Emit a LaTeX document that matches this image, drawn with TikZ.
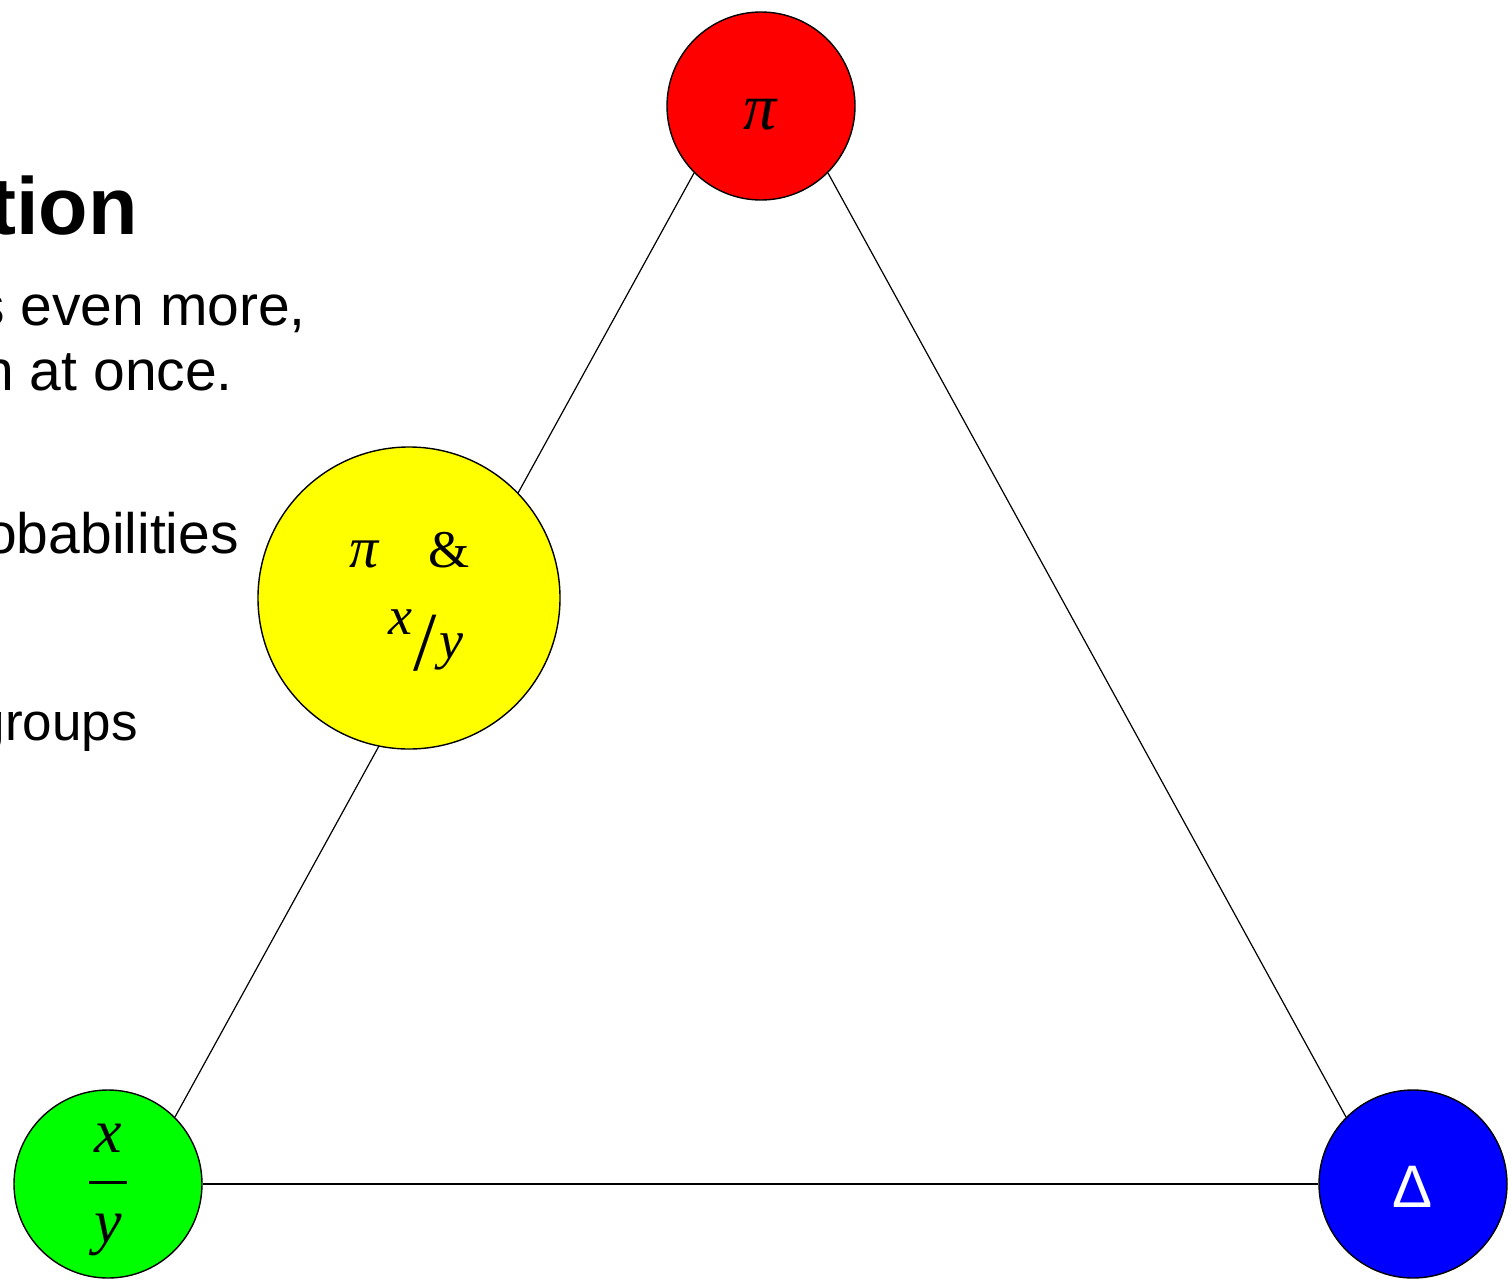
\RequirePackage{fix-cm}
\documentclass[tikz,border=0pt]{standalone}
\usepackage{fontspec}
\setmainfont{Liberation Sans}
\newfontfamily\lserif{Liberation Serif}
\newcommand{\lsi}{\lserif\itshape}
\usetikzlibrary{backgrounds}
\begin{document}
\begin{tikzpicture}[x=1pt,y=-1pt,
  ball/.style={circle,draw=black,line width=1.4pt,inner sep=0pt},
  link/.style={draw=black,line width=1.2pt},
  body/.style={font=\fontsize{57}{68}\selectfont,anchor=base east,inner sep=0pt},
  title/.style={font=\fontsize{81}{90}\selectfont\bfseries,anchor=base east,inner sep=0pt},
  lbl/.style={inner sep=0pt}
]
\clip (0,0) rectangle (1511,1279);
% circles
\node[ball,fill={rgb,255:red,255;green,0;blue,0},minimum size=188pt] (red) at (761,106) {};
\node[ball,fill={rgb,255:red,255;green,255;blue,0},minimum size=302pt] (yellow) at (409,598) {};
\node[ball,fill={rgb,255:red,0;green,255;blue,0},minimum size=188pt] (green) at (108,1184) {};
\node[ball,fill={rgb,255:red,0;green,0;blue,255},minimum size=188pt] (blue) at (1413,1184) {};
% connectors
\begin{scope}[on background layer]
\draw[link] (red.south west) -- (green.north east);
\draw[link] (red.south east) -- (blue.north west);
\draw[link] (green.east) -- (blue.west);
\end{scope}
% labels in circles
\node[lbl] (redlbl) at (760,115) {\fontsize{66}{66}\selectfont\lsi π};
\node[lbl,anchor=base] (ylbla) at (410,567) {\fontsize{58}{58}\selectfont{\lsi π}\hspace{50pt}{\fontsize{53}{53}\selectfont\lserif\&}};
\node[lbl,anchor=base] (ylblb) at (426,658) {\fontsize{54}{54}\selectfont\raisebox{24pt}{\lsi x}\kern1pt\raisebox{-12pt}{\fontsize{84}{84}\selectfont\lserif /}\kern2pt{\lsi y}};
\node[lbl,anchor=north] (greenlbl) at (108,1124) {\fontsize{62}{62}\selectfont\vbox{\hbox to 38pt{\hss\lsi x\hss}\kern28pt\hrule height 3.5pt\kern30pt\hbox to 38pt{\hss\lsi y\hss}}};
\node[lbl,text=white] (bluelbl) at (1413,1187) {\fontsize{60}{60}\selectfont Δ};
% left text (clipped)
\node[title] (t0) at (138,234) {tion};
\node[body] (t1) at (306,325) {s even more,};
\node[body] (t2) at (233,390) {n at once.};
\node[body] (t3) at (239,553) {obabilities};
\node[body,font=\fontsize{53}{64}\selectfont] (t4) at (138,740) {groups};
\end{tikzpicture}
\end{document}
